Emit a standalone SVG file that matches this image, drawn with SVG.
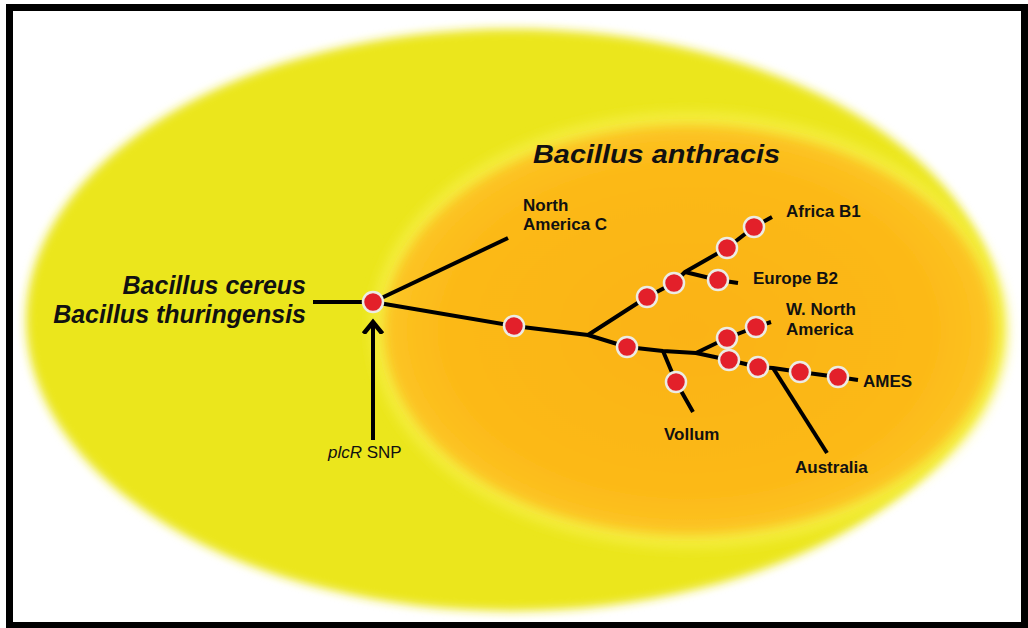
<svg xmlns="http://www.w3.org/2000/svg" width="1028" height="628" viewBox="0 0 1028 628">
<defs>
<filter id="blurY" x="-10%" y="-10%" width="120%" height="120%"><feGaussianBlur stdDeviation="5"/></filter>
<filter id="blurO" x="-10%" y="-10%" width="120%" height="120%"><feGaussianBlur stdDeviation="6"/></filter>
<radialGradient id="gO" cx="0.5" cy="0.5" r="0.5">
<stop offset="0" stop-color="#fbb314"/>
<stop offset="0.8" stop-color="#fcb918"/>
<stop offset="1" stop-color="#fcc524"/>
</radialGradient>
<marker id="arrow" viewBox="-12 -12 24 24" markerWidth="24" markerHeight="24" refX="0" refY="0" orient="auto" markerUnits="userSpaceOnUse">
<path d="M-10,-8 L0,0 L-10,8" fill="none" stroke="#000" stroke-width="4.5" stroke-linecap="square" stroke-linejoin="miter"/>
</marker>
<style>
.ln{fill:none;stroke:#000;stroke-width:4;stroke-linejoin:round}
.nd{fill:#e3202a;stroke:#ecece4;stroke-width:2.5}
.lb{font-family:"Liberation Sans",Arial,sans-serif;font-weight:bold;font-size:17px;fill:#111}
.big{font-family:"Liberation Sans",Arial,sans-serif;font-weight:bold;font-style:italic;font-size:25px;fill:#111}
.sm{font-family:"Liberation Sans",Arial,sans-serif;font-size:17px;fill:#111}
</style>
</defs>
<rect x="0" y="0" width="1028" height="628" fill="#fff"/>
<g id="background">
<ellipse cx="512" cy="320" rx="486" ry="291" fill="#ebe61c" filter="url(#blurY)"/>
<ellipse cx="689" cy="330" rx="318" ry="218" fill="#f4ee40" filter="url(#blurO)"/>
<ellipse cx="689" cy="330" rx="305" ry="205" fill="url(#gO)" filter="url(#blurO)"/>
</g>
<g id="connectors">
<line class="ln" x1="313" y1="302" x2="373" y2="302"/>
<line class="ln" x1="373" y1="440" x2="373" y2="322" marker-end="url(#arrow)"/>
<line class="ln" x1="373" y1="302" x2="508" y2="238"/>
<polyline class="ln" points="373,302 514,326 588,335 627,347 663,351 696,353 729,360 758,367 773,368 800,372 838,377 858,380"/>
<polyline class="ln" points="588,335 647,297 674,283 685,272 727,248 754,227 772,217"/>
<polyline class="ln" points="685,272 718,280 738,283"/>
<polyline class="ln" points="663,351 676,382 693,412"/>
<polyline class="ln" points="696,353 727,338 756,327 771,322"/>
<line class="ln" x1="773" y1="368" x2="827" y2="453"/>
</g>
<g id="node-root"><circle class="nd" cx="373" cy="302" r="10"/></g>
<g id="node-1"><circle class="nd" cx="514" cy="326" r="10"/></g>
<g id="node-2"><circle class="nd" cx="627" cy="347" r="10"/></g>
<g id="node-3"><circle class="nd" cx="647" cy="297" r="10"/></g>
<g id="node-4"><circle class="nd" cx="674" cy="283" r="10"/></g>
<g id="node-5"><circle class="nd" cx="727" cy="248" r="10"/></g>
<g id="node-6"><circle class="nd" cx="754" cy="227" r="10"/></g>
<g id="node-7"><circle class="nd" cx="718" cy="280" r="10"/></g>
<g id="node-8"><circle class="nd" cx="676" cy="382" r="10"/></g>
<g id="node-9"><circle class="nd" cx="727" cy="338" r="10"/></g>
<g id="node-10"><circle class="nd" cx="756" cy="327" r="10"/></g>
<g id="node-11"><circle class="nd" cx="729" cy="360" r="10"/></g>
<g id="node-12"><circle class="nd" cx="758" cy="367" r="10"/></g>
<g id="node-13"><circle class="nd" cx="800" cy="372" r="10"/></g>
<g id="node-14"><circle class="nd" cx="838" cy="377" r="10"/></g>
<g id="labels">
<text class="big" x="533" y="163" textLength="247" lengthAdjust="spacingAndGlyphs">Bacillus anthracis</text>
<text class="big" x="306" y="294" text-anchor="end" font-size="24">Bacillus cereus</text>
<text class="big" x="306" y="323" text-anchor="end" font-size="24">Bacillus thuringensis</text>
<text class="sm" x="328" y="458"><tspan font-style="italic">plcR</tspan> SNP</text>
<text class="lb" x="523" y="211">North</text>
<text class="lb" x="523" y="230">America C</text>
<text class="lb" x="786" y="217">Africa B1</text>
<text class="lb" x="753" y="284">Europe B2</text>
<text class="lb" x="786" y="315">W. North</text>
<text class="lb" x="786" y="335">America</text>
<text class="lb" x="863" y="387">AMES</text>
<text class="lb" x="664" y="440">Vollum</text>
<text class="lb" x="795" y="473">Australia</text>
</g>
<rect x="9.5" y="7.5" width="1015" height="618" fill="none" stroke="#000" stroke-width="7"/>
</svg>
